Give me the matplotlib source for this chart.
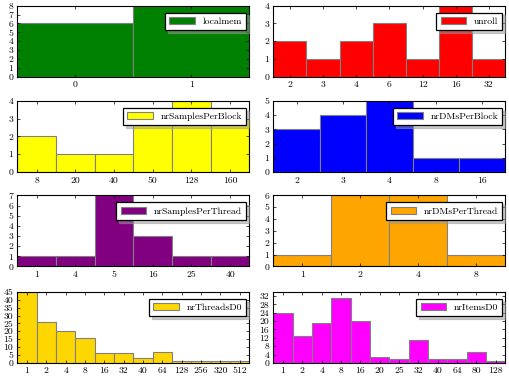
import matplotlib
matplotlib.use('Agg')
import matplotlib.pyplot as plt

plt.rcParams['font.family'] = 'cmr10'
plt.rcParams['axes.unicode_minus'] = False
plt.rcParams['font.size'] = 7

# data
localmem_cats = ['0', '1']
localmem_vals = [6, 8]
unroll_cats = ['2', '3', '4', '6', '12', '16', '32']
unroll_vals = [2, 1, 2, 3, 1, 4, 1]
spb_cats = ['8', '20', '40', '50', '128', '160']
spb_vals = [2, 1, 1, 3, 4, 3]
dmpb_cats = ['2', '3', '4', '8', '16']
dmpb_vals = [3, 4, 5, 1, 1]
spt_cats = ['1', '4', '5', '16', '25', '40']
spt_vals = [1, 1, 7, 3, 1, 1]
dmpt_cats = ['1', '2', '4', '8']
dmpt_vals = [1, 6, 6, 1]
thr_cats = ['1', '2', '4', '8', '16', '32', '40', '64', '128', '256', '320', '512']
thr_vals = [45, 26, 20, 16, 6, 6, 3, 7, 1, 1, 1, 1]
items_cats = ['1', '2', '4', '8', '16', '20', '25', '32', '40', '64', '80', '128']
items_vals = [24, 13, 19, 31, 20, 3, 2, 11, 2, 2, 5, 1]

panels = [
    ('localmem', localmem_cats, localmem_vals, 'green', 8, 1),
    ('unroll', unroll_cats, unroll_vals, 'red', 4, 1),
    ('nrSamplesPerBlock', spb_cats, spb_vals, 'yellow', 4, 1),
    ('nrDMsPerBlock', dmpb_cats, dmpb_vals, 'blue', 5, 1),
    ('nrSamplesPerThread', spt_cats, spt_vals, 'purple', 7, 1),
    ('nrDMsPerThread', dmpt_cats, dmpt_vals, 'orange', 6, 1),
    ('nrThreadsD0', thr_cats, thr_vals, 'gold', 45, 5),
    ('nrItemsD0', items_cats, items_vals, 'magenta', 34, 4),
]

fig = plt.figure(figsize=(5.09, 3.78), dpi=100)

lefts = [0.034, 0.537]
width = 0.456
bottoms = [0.797, 0.545, 0.295, 0.040]
height = 0.188

for i, (name, cats, vals, col, top, step) in enumerate(panels):
    ax = fig.add_axes([lefts[i % 2], bottoms[i // 2], width, height])
    x = range(len(cats))
    ax.bar(x, vals, width=1.0, color=col, edgecolor='gray', linewidth=0.8, label=name)
    ax.set_xlim(-0.5, len(cats) - 0.5)
    ax.set_ylim(0, top)
    ax.set_xticks(list(x))
    ax.set_xticklabels(cats)
    ax.set_yticks(range(0, top + 1, step))
    ax.tick_params(direction='in', top=True, right=True, length=2.5, width=0.5, pad=3, labelsize=7)
    for s in ax.spines.values():
        s.set_linewidth(0.8)
    leg = ax.legend(loc='upper right', bbox_to_anchor=(0.995, 0.93), shadow={'color': '0.6'},
                    fancybox=False, fontsize=7, handlelength=2.6, borderpad=0.45,
                    borderaxespad=0.2)
    leg.get_frame().set_edgecolor('black')
    leg.get_frame().set_linewidth(0.9)

fig.savefig('out.png', dpi=100)
